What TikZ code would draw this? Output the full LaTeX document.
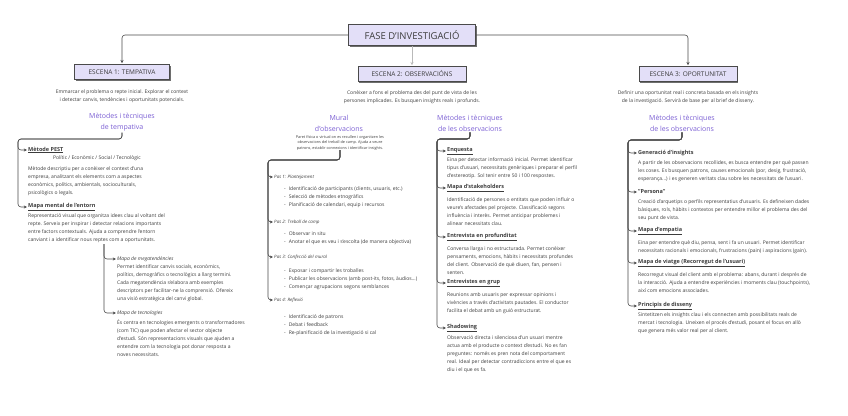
\documentclass[tikz,border=0pt]{standalone}
\usepackage{fontspec}
\setmainfont{Open Sans}
\usetikzlibrary{arrows.meta,positioning,shadows}
\definecolor{lila}{HTML}{E3DFF8}
\definecolor{liladark}{HTML}{7B5FD3}
\definecolor{vora}{HTML}{4A4A4A}
\definecolor{textgris}{HTML}{3C3C3C}
\begin{document}
\begin{tikzpicture}[x=1pt, y=-1pt,
    caixa/.style={draw=vora, fill=lila, line width=0.6pt, inner sep=2pt, text=textgris,
        drop shadow={shadow xshift=1pt, shadow yshift=-1pt, fill=vora, opacity=0.8}},
    escena/.style={caixa, minimum height=15pt, font=\fontsize{6.5pt}{8pt}\selectfont},
    conn/.style={draw=vora, line width=0.6pt, rounded corners=3pt, -{Stealth[length=3.2pt, width=3pt]}},
    resum/.style={font=\fontsize{5pt}{7.5pt}\selectfont, text=textgris, align=center, inner sep=0pt},
    titol/.style={font=\fontsize{7pt}{11pt}\selectfont, text=liladark, align=center, inner sep=1pt},
    item/.style={anchor=west, inner sep=1pt, font=\fontsize{5.5pt}{7pt}\selectfont\bfseries, text=textgris},
    subitem/.style={anchor=west, inner sep=1pt, font=\fontsize{5pt}{7pt}\selectfont\itshape, text=textgris},
    desc/.style={anchor=north west, inner sep=0pt, font=\fontsize{5pt}{8pt}\selectfont, text=textgris, align=left}]
    \useasboundingbox (0,0) rectangle (848,415);

    % Fase i escenes
    \node[caixa, minimum width=127pt, minimum height=21pt, font=\fontsize{9.5pt}{11pt}\selectfont] (fase) at (412,35) {FASE D'INVESTIGACIÓ};
    \node[escena, minimum width=95pt] (esc1) at (122,72) {ESCENA 1: TEMPATIVA};
    \node[escena, minimum width=108pt] (esc2) at (412,74) {ESCENA 2: OBSERVACIÓNS};
    \node[escena, minimum width=98pt] (esc3) at (688,74) {ESCENA 3: OPORTUNITAT};

    \draw[conn, shorten >=1pt] (fase.west) -| (esc1.north);
    \draw[conn, shorten >=1pt] (fase.east) -| (esc3.north);
    \draw[conn, draw=gray!55, shorten >=1pt] (fase.south) -- (esc2.north);

    \node[resum] (r1) at (122,96) {Emmarcar el problema o repte inicial. Explorar el context\\i detectar canvis, tendències i oportunitats potencials.};
    \node[resum] (r2) at (412,97) {Conèixer a fons el problema des del punt de vista de les\\persones implicades. Es busquen insights reals i profunds.};
    \node[resum] (r3) at (688,97) {Definir una oportunitat real i concreta basada en els insights\\de la investigació. Servirà de base per al brief de disseny.};

    % Escena 1
    \node[titol] (t1) at (122,122.5) {Mètodes i tècniques\\de tempativa};
    \coordinate (s1) at (18,139);
    \node[item] (pest) at (27,150) {\underline{Mètode PEST}};
    \node[resum] (pestsub) at (97,158) {Polític / Econòmic / Social / Tecnològic};
    \node[desc] (pestd) at (28,166) {Mètode descriptiu per a conèixer el context d'una\\empresa, analitzant els elements com a aspectes\\econòmics, polítics, ambientals, socioculturals,\\psicològics o legals.};
    \node[item] (mental) at (27,207) {\underline{Mapa mental de l'entorn}};
    \node[desc] (mentald) at (28,213) {Representació visual que organitza idees clau al voltant del\\repte. Serveix per inspirar i detectar relacions importants\\entre factors contextuals. Ajuda a comprendre l'entorn\\canviant i a identificar nous reptes com a oportunitats.};
    \draw[conn] (t1.south) |- (s1) |- (pest.west);
    \draw[conn] (t1.south) |- (s1) |- (mental.west);

    \coordinate (s1b) at (104,244);
    \node[subitem] (megat) at (116,259) {Mapa de megatendències};
    \node[desc] (megatd) at (117,264) {Permet identificar canvis socials, econòmics,\\polítics, demogràfics o tecnològics a llarg termini.\\Cada megatendència s'elabora amb exemples\\descriptors per facilitar-ne la comprensió. Ofereix\\una visió estratègica del canvi global.};
    \node[subitem] (tecno) at (116,313) {Mapa de tecnologies};
    \node[desc] (tecnod) at (117,320) {És centra en tecnologies emergents o transformadores\\(com TIC) que poden afectar el sector objecte\\d'estudi. Són representacions visuals que ajuden a\\entendre com la tecnologia pot donar resposta a\\noves necessitats.};
    \draw[conn] (s1b) |- (megat.west);
    \draw[conn] (s1b) |- (tecno.west);

    % Mural d'observacions
    \node[titol] (t2) at (339,123.5) {Mural\\d'observacions};
    \node[resum, font=\fontsize{3.8pt}{5.5pt}\selectfont] (t2d) at (340,142.5) {Paret física o virtual on es recullen i organitzen les\\observacions del treball de camp. Ajuda a veure\\patrons, establir connexions i identificar insights.};
    \coordinate (s2) at (268,160);
    \node[subitem, font=\fontsize{4.5pt}{6pt}\selectfont\itshape] (pas1) at (273,177) {Pas 1: Plantejament};
    \node[desc] (pas1d) at (284,186) {-\hspace{3pt}Identificació de participants (clients, usuaris, etc.)\\-\hspace{3pt}Selecció de mètodes etnogràfics\\-\hspace{3pt}Planificació de calendari, equip i recursos};
    \node[subitem, font=\fontsize{4.5pt}{6pt}\selectfont\itshape] (pas2) at (273,222) {Pas 2: Treball de camp};
    \node[desc] (pas2d) at (284,231) {-\hspace{3pt}Observar in situ\\-\hspace{3pt}Anotar el que es veu i s'escolta (de manera objectiva)};
    \node[subitem, font=\fontsize{4.5pt}{6pt}\selectfont\itshape] (pas3) at (273,257) {Pas 3: Confecció del mural};
    \node[desc] (pas3d) at (284,268) {-\hspace{3pt}Exposar i compartir les troballes\\-\hspace{3pt}Publicar les observacions (amb post-its, fotos, àudios...)\\-\hspace{3pt}Començar agrupacions segons semblances};
    \node[subitem, font=\fontsize{4.5pt}{6pt}\selectfont\itshape] (pas4) at (273,300) {Pas 4: Reflexió};
    \node[desc] (pas4d) at (284,314) {-\hspace{3pt}Identificació de patrons\\-\hspace{3pt}Debat i feedback\\-\hspace{3pt}Re-planificació de la investigació si cal};
    \foreach \p in {pas1,pas2,pas3,pas4}
        \draw[conn] (t2d.south) |- (s2) |- (\p.west);

    % Escena 2: metodes
    \node[titol] (t3) at (470,123) {Mètodes i tècniques\\de les observacions};
    \coordinate (s3) at (437,139);
    \node[item] (enq) at (446,151) {\underline{Enquesta}};
    \node[desc] (enqd) at (447,157) {Eina per detectar informació inicial. Permet identificar\\tipus d'usuari, necessitats genèriques i preparar el perfil\\d'estereotip. Sol tenir entre 50 i 100 respostes.};
    \node[item] (stake) at (446,188) {\underline{Mapa d'stakeholders}};
    \node[desc] (staked) at (447,197) {Identificació de persones o entitats que poden influir o\\veure's afectades pel projecte. Classificació segons\\influència i interès. Permet anticipar problemes i\\alinear necessitats clau.};
    \node[item] (prof) at (446,237) {\underline{Entrevista en profunditat}};
    \node[desc] (profd) at (447,246) {Conversa llarga i no estructurada. Permet conèixer\\pensaments, emocions, hàbits i necessitats profundes\\del client. Observació de què diuen, fan, pensen i\\senten.};
    \node[item] (grup) at (446,283) {\underline{Entrevistes en grup}};
    \node[desc] (grupd) at (447,292) {Reunions amb usuaris per expressar opinions i\\vivències a través d'activitats pautades. El conductor\\facilita el debat amb un guió estructurat.};
    \node[item] (shad) at (446,328) {\underline{Shadowing}};
    \node[desc] (shadd) at (447,335) {Observació directa i silenciosa d'un usuari mentre\\actua amb el producte o context d'estudi. No es fan\\preguntes: només es pren nota del comportament\\real. Ideal per detectar contradiccions entre el que es\\diu i el que es fa.};
    \foreach \p in {enq,stake,prof,grup,shad}
        \draw[conn] (t3.south) |- (s3) |- (\p.west);

    % Escena 3
    \node[titol] (t4) at (682,123) {Mètodes i tècniques\\de les observacions};
    \coordinate (s4) at (628,140);
    \node[item] (ins) at (637,153) {Generació d'insights};
    \node[desc] (insd) at (638,160) {A partir de les observacions recollides, es busca entendre per què passen\\les coses. Es busquen patrons, causes emocionals (por, desig, frustració,\\esperança...) i es generen veritats clau sobre les necessitats de l'usuari.};
    \node[item] (pers) at (637,192) {"Persona"};
    \node[desc] (persd) at (638,199) {Creació d'arquetips o perfils representatius d'usuaris. Es defineixen dades\\bàsiques, rols, hàbits i contextos per entendre millor el problema des del\\seu punt de vista.};
    \node[item] (emp) at (637,231) {\underline{Mapa d'empatia}};
    \node[desc] (empd) at (638,240) {Eina per entendre què diu, pensa, sent i fa un usuari. Permet identificar\\necessitats racionals i emocionals, frustracions (pain) i aspiracions (gain).};
    \node[item] (viat) at (637,263) {\underline{Mapa de viatge (Recorregut de l'usuari)}};
    \node[desc] (viatd) at (638,272) {Recorregut visual del client amb el problema: abans, durant i després de\\la interacció. Ajuda a entendre experiències i moments clau (touchpoints),\\així com emocions associades.};
    \node[item] (princ) at (637,306) {\underline{Principis de disseny}};
    \node[desc] (princd) at (638,312) {Sintetitzen els insights clau i els connecten amb possibilitats reals de\\mercat i tecnologia. Uneixen el procés d'estudi, posant el focus en allò\\que genera més valor real per al client.};
    \foreach \p in {ins,pers,emp,viat,princ}
        \draw[conn] (t4.south) |- (s4) |- (\p.west);
\end{tikzpicture}
\end{document}
